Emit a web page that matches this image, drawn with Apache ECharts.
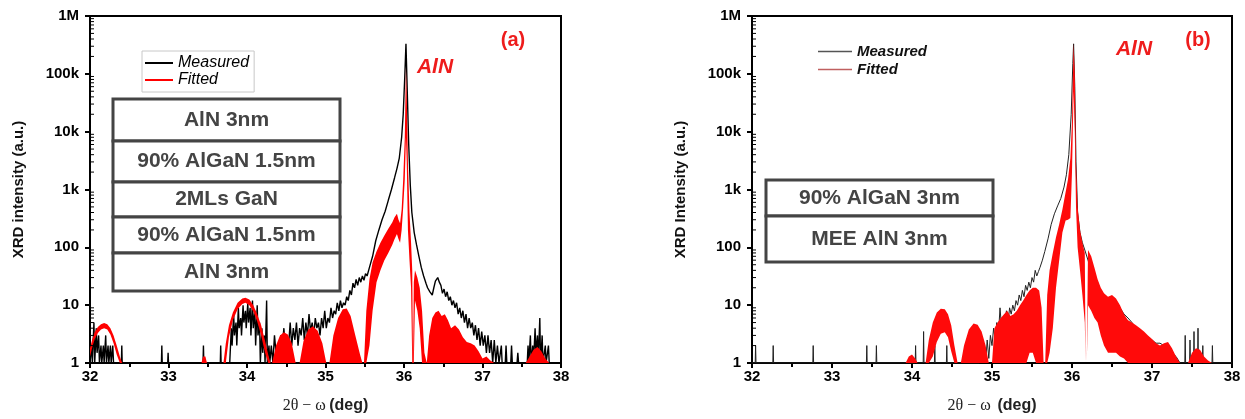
<!DOCTYPE html>
<html>
<head>
<meta charset="utf-8">
<script src="https://cdn.jsdelivr.net/npm/echarts@6/dist/echarts.min.js"></script>
<style>html,body{margin:0;padding:0;background:#fff}#c{width:1245px;height:419px}</style>
</head>
<body>
<div id="c"></div>
<script>
// ---------- data ----------
const xRange = [32, 38];
const yTickLabels = ['1', '10', '100', '1k', '10k', '100k', '1M'];
const minorMultipliers = [2, 3, 4, 5, 6, 7, 8, 9];
const decades = [1, 10, 100, 1000, 10000, 100000];

// panel (a) measured [2theta, intensity]
const measuredA = [
[32.00,1],[32.02,2],[32.03,1],[32.05,5],[32.06,1],[32.08,4],[32.09,1.5],[32.11,3],[32.12,1],[32.14,2],[32.15,1],[32.17,2],[32.18,1],[32.20,3],[32.21,1],[32.23,2],[32.24,1],[32.26,2],[32.27,1],[32.29,2],[32.30,1],[32.40,1],[32.405,2],[32.41,1],
[32.91,1],[32.915,2],[32.92,1],[32.99,1],[32.995,1.5],[33.00,1],[33.44,1],[33.445,2],[33.45,1],[33.66,1],[33.665,2],[33.67,1],
[33.78,1],[33.80,4],[33.81,2],[33.83,7],[33.84,3],[33.86,5],[33.87,2],[33.89,9],[33.90,4],[33.92,6],[33.93,3],[33.95,10],[33.96,5],[33.98,8],[33.99,4],[34.01,11],[34.02,5],[34.04,9],[34.05,3],[34.07,12],[34.08,4],[34.10,8],[34.11,2],[34.13,10],[34.14,3],[34.16,5],[34.17,1],[34.19,4],[34.20,1.5],[34.22,3],[34.23,1],[34.25,12],[34.26,1],[34.28,2],[34.29,1],
[34.31,2],[34.33,1],[34.35,3],[34.37,1.5],[34.39,2],[34.41,1],[34.43,3],[34.45,2],[34.47,4],[34.49,1.5],[34.51,3],[34.53,2],[34.55,5],[34.57,2],[34.59,4],[34.61,2.5],[34.63,5],[34.65,2],[34.67,4],[34.69,3],[34.71,6],[34.73,2.5],[34.75,5],[34.77,3],[34.79,7],[34.81,3.5],[34.83,5],[34.85,3],[34.87,6],[34.89,4],[34.91,5],[34.93,3],[34.95,6],[34.97,4],[34.99,8],[35.01,4],[35.03,6],[35.05,5],[35.07,9],[35.09,6],[35.11,8],[35.13,7],[35.15,11],[35.17,8],[35.19,12],[35.21,9],[35.23,11],[35.25,10],[35.27,14],[35.29,12],
[35.31,18],[35.33,15],[35.35,24],[35.37,20],[35.39,28],[35.41,22],[35.43,30],[35.45,25],[35.47,32],[35.49,27],[35.51,35],[35.53,32],[35.56,45],[35.60,70],[35.64,130],[35.68,200],[35.72,300],[35.76,420],[35.80,650],[35.84,1000],[35.88,1600],[35.91,2300],[35.94,3500],[35.97,8000],[35.99,20000],[36.01,90000],[36.025,330000],[36.04,60000],[36.06,6000],[36.08,1200],[36.10,400],[36.13,180],[36.16,110],[36.19,70],[36.22,45],[36.25,32],[36.28,24],[36.30,20],[36.33,17],[36.36,15],[36.38,20],[36.40,26],[36.43,30],[36.45,25],[36.47,22],[36.49,16],[36.51,19],[36.53,14],[36.55,17],[36.57,12],[36.59,14],[36.61,10],[36.63,12],[36.65,9],[36.67,11],[36.69,7],[36.71,9],[36.73,6],[36.75,8],[36.77,5],[36.79,7],[36.81,4],[36.83,6],[36.85,4],[36.87,5],[36.89,3],[36.91,4.5],[36.93,2.5],[36.95,4],[36.97,2],[36.99,3.5],[37.01,2],[37.03,3],[37.05,1.5],[37.07,3],[37.09,1.5],[37.11,2.5],[37.13,1],[37.15,2.5],[37.17,1],[37.19,2],[37.21,1],[37.24,2],[37.25,1],[37.29,1],[37.30,2],[37.31,1],[37.36,1],[37.37,2],[37.38,1],[37.44,1],[37.45,1.5],[37.46,1],[37.57,1],[37.58,2],[37.59,1],[37.61,3],[37.62,1],[37.64,2],[37.65,1],[37.67,4],[37.68,1.5],[37.70,3],[37.71,1],[37.73,6],[37.74,1],[37.76,3],[37.77,1],[37.80,2],[37.81,1],[37.84,2],[37.85,1],[38.00,1]
];

// panel (a) fitted envelope [2theta, upper, lower]
const fittedA = [
[32.00,1.8,1.3],[32.03,2.6,1.9],[32.06,3.4,2.6],[32.10,4.2,3.3],[32.14,4.7,3.8],[32.18,4.9,4.0],[32.22,4.7,3.8],[32.26,4.0,3.1],[32.30,3.0,2.2],[32.34,2.0,1.4],[32.38,1.3,1],[32.41,1,1],
[33.42,1,1],[33.44,1.3,1],[33.47,1.3,1],[33.49,1,1],[33.68,1,1],
[33.70,1,1],[33.73,2.2,1],[33.77,4.5,2.8],[33.82,7.5,5.5],[33.88,11,8.5],[33.94,13,10.5],[33.98,13.5,11],[34.03,12.5,10],[34.08,10,7.8],[34.13,7,5.2],[34.18,4.5,3],[34.23,2.4,1.5],[34.27,1.4,1],[34.30,1,1],
[34.32,1,1],[34.37,2,1],[34.42,3,1],[34.47,3.4,1],[34.52,3.1,1],[34.57,2.2,1],[34.62,1,1],
[34.67,1,1],[34.72,2.4,1],[34.78,3.8,1],[34.84,4.3,1],[34.90,3.6,1],[34.96,2.2,1],[35.01,1,1],
[35.05,1,1],[35.10,3,1],[35.16,6,1],[35.22,8.5,1],[35.27,8.8,1],[35.32,6.5,1],[35.38,3,1],[35.44,1.4,1],[35.47,1,1],
[35.49,1,1],[35.52,8,1],[35.56,28,2],[35.60,55,8],[35.65,85,25],[35.70,120,40],[35.75,160,60],[35.80,210,80],[35.85,270,110],[35.88,330,140],[35.91,380,170],[35.93,300,140],[35.95,260,120],[35.97,450,200],[35.99,1500,500],[36.01,8000,1500],[36.025,130000,8000],[36.035,40000,3000],[36.05,3000,200],[36.07,400,60],[36.09,120,20],[36.105,40,1],[36.115,1,1],[36.125,25,1],[36.14,40,12],[36.17,30,8],[36.20,20,4],[36.23,8,1],[36.26,1.5,1],[36.29,1,1],
[36.32,3,1],[36.36,6,1],[36.40,7.5,1],[36.44,8,1],[36.48,6.5,1],[36.52,7,1],[36.56,5.5,1],[36.60,4,1],[36.65,4.5,1],[36.70,3.8,1],[36.75,2.8,1],[36.80,2.3,1],[36.85,2.2,1],[36.90,2,1],[36.95,1.6,1],[37.00,1.2,1],[37.05,1.3,1],[37.10,1.1,1],[37.15,1,1],
[37.55,1,1],[37.60,1.3,1],[37.65,1.7,1],[37.70,1.9,1],[37.75,1.6,1],[37.80,1.2,1],[37.85,1,1],[38.00,1,1]
];

// panel (b) measured
const measuredB = [
[32.00,1],[32.04,1],[32.045,2],[32.05,1],[32.26,1],[32.265,2],[32.27,1],[32.76,1],[32.765,2],[32.77,1],[33.43,1],[33.435,2],[33.44,1],[33.55,1],[33.555,2],[33.56,1],[34.04,1],[34.045,2],[34.05,1],[34.14,1],[34.145,3.5],[34.15,1],[34.28,1],[34.285,2],[34.29,1],[34.43,1],[34.435,2],[34.44,1],
[34.84,1],[34.86,1.5],[34.88,1],[34.90,2],[34.92,1],[34.94,2.5],[34.96,1.2],[34.98,3],[35.00,2],[35.02,4],[35.04,2.5],[35.06,5],[35.08,3],[35.10,9],[35.12,4],[35.14,6],[35.16,4],[35.18,8],[35.20,5],[35.22,9],[35.24,7],[35.26,10],[35.28,8],[35.30,12],[35.32,10],[35.34,15],[35.36,12],[35.38,18],[35.40,14],[35.42,22],[35.44,18],[35.46,25],[35.48,20],[35.50,30],[35.52,25],[35.54,40],[35.56,32],[35.58,38],[35.60,45],[35.63,60],[35.66,85],[35.70,140],[35.74,250],[35.78,380],[35.82,520],[35.86,700],[35.90,1100],[35.93,1800],[35.96,4000],[35.99,20000],[36.01,150000],[36.02,330000],[36.035,60000],[36.05,3000],[36.07,400],[36.10,180],[36.13,120],[36.16,90],[36.20,60],[36.25,35],[36.30,20],[36.35,12],[36.40,10],[36.45,9],[36.50,11],[36.55,12],[36.60,9],[36.65,7],[36.70,6],[36.75,5],[36.80,4],[36.85,3.5],[36.90,3],[36.95,2.8],[37.00,2.5],[37.05,2.2],[37.10,2.2],[37.15,2],[37.20,2],[37.25,1.5],[37.30,1.3],[37.35,1],
[37.41,1],[37.415,3],[37.42,1],[37.47,1],[37.475,2.5],[37.48,1],[37.52,1],[37.525,3.5],[37.53,1],[37.57,1],[37.575,4],[37.58,1],[37.63,1],[37.635,2],[37.64,1],[37.75,1],[37.755,2],[37.76,1],[38.00,1]
];

// panel (b) fitted envelope [2theta, upper, lower]
const fittedB = [
[32.00,1,1],[33.92,1,1],[33.96,1.3,1],[34.00,1.4,1],[34.04,1.2,1],[34.07,1,1],
[34.17,1,1],[34.21,2.5,1],[34.26,5,1.3],[34.31,7.5,2.3],[34.36,8.7,3.2],[34.41,8.5,3.4],[34.45,7,2.8],[34.49,4.5,1.6],[34.53,2,1],[34.57,1,1],
[34.61,1,1],[34.65,2,1],[34.71,3.8,1],[34.77,4.8,1],[34.82,4.6,1],[34.87,3.5,1],[34.92,2,1],[34.96,1,1],
[35.00,1,1],[35.03,4,1],[35.07,5,1],[35.11,6,1],[35.15,7,1],[35.19,8,1],[35.23,6.5,1],[35.27,7,1],[35.31,8,1],[35.35,10,1],[35.39,12,1],[35.43,15,1],[35.47,18,1.5],[35.51,20,1.5],[35.55,20,1],[35.59,18,1],[35.62,9,1],[35.645,1,1],[35.665,1,1],
[35.69,15,1],[35.72,40,1.5],[35.76,80,4],[35.80,150,20],[35.84,250,60],[35.88,450,180],[35.92,900,290],[35.95,1500,300],[35.98,3500,320],[36.00,15000,2000],[36.02,340000,50000],[36.035,100000,10000],[36.05,3000,500],[36.07,500,100],[36.10,200,40],[36.13,120,15],[36.16,80,5],[36.17,1,1],[36.185,1,1],
[36.20,90,10],[36.24,70,8],[36.28,45,6],[36.32,28,5],[36.36,20,3],[36.40,16,2],[36.45,14,1.5],[36.50,15,1.5],[36.55,13,1.5],[36.60,10,1.3],[36.65,7,1.2],[36.70,5.5,1],[36.75,5,1],[36.80,4.5,1],[36.85,4,1],[36.90,3.5,1],[36.95,3,1],[37.00,2.6,1],[37.05,2.2,1],[37.10,2,1],[37.15,2.2,1],[37.20,2.3,1],[37.25,1.8,1],[37.30,1.3,1],[37.35,1,1],
[37.45,1,1],[37.50,1.5,1],[37.55,1.8,1],[37.60,1.7,1],[37.65,1.3,1],[37.70,1.1,1],[37.75,1,1],[38.00,1,1]
];

const layersA = ['AlN 3nm', '90% AlGaN 1.5nm', '2MLs GaN', '90% AlGaN 1.5nm', 'AlN 3nm'];
const layersB = ['90% AlGaN 3nm', 'MEE AlN 3nm'];
const yTitles = ['XRD intensity (a.u.)', 'XRD Intensity (a.u.)'];
const xTitles = ['{s|2θ − ω} {b|(deg)}', '{s|2θ − ω}  {b|(deg)}'];
const panelTags = ['(a)', '(b)'];
const peakLabel = 'AlN';

// ---------- chart ----------
const FONT = '"Liberation Sans", Arial, sans-serif';
const minorTickVals = [];
decades.forEach(d => minorMultipliers.forEach(m => minorTickVals.push(d * m)));

const grids = [
  {left: 90, top: 16, width: 471, height: 348},
  {left: 752, top: 16, width: 480, height: 348}
];

function xAxisFor(i) {
  return {
    type: 'value', gridIndex: i, min: xRange[0], max: xRange[1], interval: 1,
    axisLine: {show: true, lineStyle: {color: '#000', width: 2}},
    axisTick: {show: true, length: 5, lineStyle: {color: '#000', width: 2}},
    minorTick: {show: true, splitNumber: 2, length: 4, lineStyle: {color: '#000', width: 2}},
    splitLine: {show: false},
    axisLabel: {color: '#000', fontFamily: FONT, fontWeight: 'bold', fontSize: 15, margin: 6},
    name: xTitles[i], nameLocation: 'middle', nameGap: 35,
    nameTextStyle: {rich: {
      s: {fontFamily: '"Liberation Serif", "DejaVu Serif", serif', fontSize: 16, color: '#222'},
      b: {fontFamily: FONT, fontWeight: 'bold', fontSize: 16, color: '#222'}
    }}
  };
}
function yAxisFor(i) {
  return {
    type: 'log', logBase: 10, gridIndex: i, min: 1, max: 1e6, interval: 1,
    axisLine: {show: true, lineStyle: {color: '#000', width: 2}},
    axisTick: {show: true, length: 5, lineStyle: {color: '#000', width: 2}},
    splitLine: {show: false},
    axisLabel: {color: '#000', fontFamily: FONT, fontWeight: 'bold', fontSize: 15, margin: 11,
      formatter: v => yTickLabels[Math.round(Math.log10(v))]},
    name: yTitles[i], nameLocation: 'middle', nameRotate: 90, nameGap: 64,
    nameTextStyle: {fontFamily: FONT, fontWeight: 'bold', fontSize: 15, color: '#111'}
  };
}

function minorTickSeries(i) {
  return {
    type: 'custom', xAxisIndex: i, yAxisIndex: i, silent: true, z: 6,
    data: minorTickVals.map(v => [xRange[0], v]),
    renderItem: (params, api) => {
      const p = api.coord([api.value(0), api.value(1)]);
      return {type: 'line', shape: {x1: p[0], y1: p[1], x2: p[0] + 4, y2: p[1]},
        style: {stroke: '#000', lineWidth: 1}};
    }
  };
}
function bandSeries(name, band, i, color) {
  return {
    type: 'custom', name: name, xAxisIndex: i, yAxisIndex: i, silent: true, z: 4,
    itemStyle: {color: color},
    data: [[band[0][0], band[0][1]]],
    renderItem: (params, api) => {
      const pts = [];
      band.forEach(d => pts.push(api.coord([d[0], d[1]])));
      for (let k = band.length - 1; k >= 0; k--) pts.push(api.coord([band[k][0], band[k][2]]));
      return {type: 'polygon', shape: {points: pts}, style: {fill: color, stroke: null}};
    }
  };
}
function lineSeries(name, data, i, color, w) {
  return {
    type: 'line', name: name, xAxisIndex: i, yAxisIndex: i, data: data, z: 3,
    showSymbol: false, symbol: 'none', silent: true, animation: false,
    color: color, lineStyle: {color: color, width: w}
  };
}

const graphic = [];
function addStack(rows, x, w, ys) {
  rows.forEach((t, k) => {
    graphic.push({type: 'rect', z: 20, shape: {x: x, y: ys[k], width: w, height: ys[k + 1] - ys[k]},
      style: {fill: '#fff', stroke: '#444', lineWidth: 3}});
  });
  rows.forEach((t, k) => {
    graphic.push({type: 'text', z: 21, x: x + w / 2, y: (ys[k] + ys[k + 1]) / 2,
      style: {text: t, fill: '#444', font: 'bold 21px ' + FONT, align: 'center', verticalAlign: 'middle'}});
  });
}
addStack(layersA, 113, 227, [99, 141, 182, 217, 253, 291]);
addStack(layersB, 766, 227, [180, 216, 262]);
function addText(t, x, y, style) {
  graphic.push({type: 'text', z: 21, x: x, y: y,
    style: Object.assign({text: t, fill: '#ee1c1c', align: 'center', verticalAlign: 'middle'}, style)});
}
addText(panelTags[0], 513, 40, {font: 'bold 20px ' + FONT});
addText(panelTags[1], 1198, 40, {font: 'bold 20px ' + FONT});
addText(peakLabel, 435, 67, {font: 'italic bold 21px ' + FONT});
addText(peakLabel, 1134, 49, {font: 'italic bold 21px ' + FONT});

const chart = echarts.init(document.getElementById('c'), null, {renderer: 'canvas'});
chart.setOption({
  animation: false,
  backgroundColor: '#fff',
  grid: grids.map(g => Object.assign({show: true, borderColor: '#000', borderWidth: 2, backgroundColor: 'transparent'}, g)),
  xAxis: [xAxisFor(0), xAxisFor(1)],
  yAxis: [yAxisFor(0), yAxisFor(1)],
  legend: [
    {left: 142, top: 51, orient: 'vertical', selectedMode: false,
     padding: [4, 5, 4, 3], itemGap: 1, itemWidth: 28, itemHeight: 2,
     borderColor: '#c8c8c8', borderWidth: 1, backgroundColor: '#fff',
     textStyle: {fontFamily: FONT, fontStyle: 'italic', fontSize: 16, color: '#000'},
     data: [{name: 'Measured', icon: 'rect', itemStyle: {color: '#000'}},
            {name: 'Fitted', icon: 'rect', itemStyle: {color: '#ff0000'}}]},
    {left: 818, top: 44, orient: 'vertical', selectedMode: false,
     padding: 0, itemGap: 3, itemWidth: 34, itemHeight: 1.5,
     textStyle: {fontFamily: FONT, fontStyle: 'italic', fontWeight: 'bold', fontSize: 15, color: '#111'},
     data: [{name: 'Measured', icon: 'rect', itemStyle: {color: '#555'}},
            {name: 'Fitted', icon: 'rect', itemStyle: {color: '#c06060'}}]}
  ],
  series: [
    lineSeries('Measured', measuredA, 0, '#000', 1.4),
    bandSeries('Fitted', fittedA, 0, '#ff0000'),
    lineSeries('Measured', measuredB, 1, '#222', 1),
    bandSeries('Fitted', fittedB, 1, '#ff0a0a'),
    minorTickSeries(0),
    minorTickSeries(1)
  ],
  graphic: graphic
});
</script>
</body>
</html>
